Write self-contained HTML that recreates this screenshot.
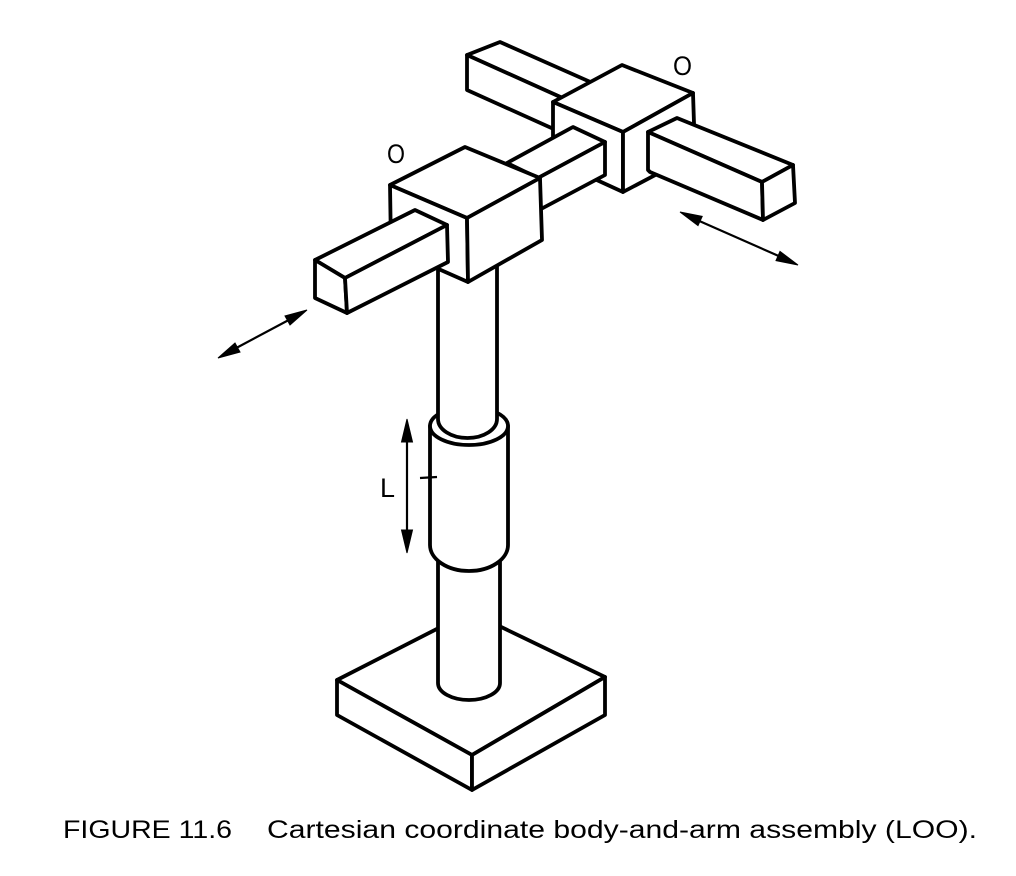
<!DOCTYPE html>
<html>
<head>
<meta charset="utf-8">
<style>
  html, body { margin: 0; padding: 0; background: #fff; }
  svg { display: block; }
  text { font-family: "Liberation Sans", Arial, sans-serif; fill: #000; }
</style>
</head>
<body>
<svg width="1016" height="876" viewBox="0 0 1016 876" xmlns="http://www.w3.org/2000/svg">
  <rect width="1016" height="876" fill="#fff"/>
  <g fill="#fff" stroke="#000" stroke-width="3.8" stroke-linejoin="round" stroke-linecap="round">
    <!-- back bar (behind right block) -->
    <polygon points="467,55 500,42 640,104 607,118"/>
    <polygon points="467,55 607,118 607,153 467,90"/>

    <!-- right block -->
    <polygon points="553,102 622,65 693,93 623,132"/>
    <polygon points="553,102 623,132 623,192 553,160"/>
    <polygon points="623,132 693,93 695,154 623,192"/>

    <!-- right bar -->
    <polygon points="648,132 677,118 793,165 762,182"/>
    <polygon points="648,132 762,182 763,220 650,172 648,170"/>
    <polygon points="762,182 793,165 795,203 763,220"/>

    <!-- middle bar -->
    <polygon points="507,163 573,127 605,142 538,178"/>
    <polygon points="538,178 605,142 605,175 541,209"/>

    <!-- base plate -->
    <polygon points="337,680 470,612 605,677 472,755"/>
    <polygon points="337,680 472,755 472,790 337,715"/>
    <polygon points="472,755 605,677 605,715 472,790"/>

    <!-- lower column -->
    <path d="M438,555 L438,683 A31,17 0 0 0 500,683 L500,555 Z"/>

    <!-- sleeve body -->
    <path d="M430,426 L430,545 A39,26 0 0 0 508,545 L508,426 Z"/>
    <ellipse cx="469" cy="426" rx="39" ry="19"/>

    <!-- upper column -->
    <path d="M438,240 L438,419 A29.5,19 0 0 0 497,419 L497,240"/>

    <!-- left block -->
    <polygon points="390,185 465,147 540,178 467,218"/>
    <polygon points="390,185 467,218 468,282 391,248"/>
    <polygon points="467,218 540,178 542,240 468,282"/>

    <!-- left bar -->
    <polygon points="315,260 415,210 447,225 345,278"/>
    <polygon points="315,260 345,278 347,313 315,298"/>
    <polygon points="345,278 447,225 448,262 347,313"/>
  </g>

  <!-- L arrow -->
  <g stroke="#000" stroke-width="2.2" fill="#000">
    <line x1="407" y1="430" x2="407" y2="543"/>
    <polygon points="407,419 401.5,442 412.5,442" stroke-width="1"/>
    <polygon points="407,553 401.5,530 412.5,530" stroke-width="1"/>
    <line x1="420" y1="478" x2="437" y2="477"/>
  </g>

  <!-- left double arrow -->
  <g stroke="#000" stroke-width="2.2" fill="#000">
    <line x1="225" y1="354" x2="300" y2="314"/>
    <polygon points="307,310 290,325 285,316" stroke-width="1"/>
    <polygon points="218,358 240,352 235,343" stroke-width="1"/>
  </g>

  <!-- right double arrow -->
  <g stroke="#000" stroke-width="2.2" fill="#000">
    <line x1="688" y1="216" x2="790" y2="261"/>
    <polygon points="798,265 776,260.6 780,251.4" stroke-width="1"/>
    <polygon points="680,212 698,225.6 702.2,216.4" stroke-width="1"/>
  </g>

  <!-- labels -->
  <text x="387" y="163" font-size="27" textLength="18" lengthAdjust="spacingAndGlyphs">O</text>
  <text x="673" y="75" font-size="27" textLength="19" lengthAdjust="spacingAndGlyphs">O</text>
  <text x="380" y="497" font-size="27" textLength="15" lengthAdjust="spacingAndGlyphs">L</text>

  <!-- caption -->
  <text x="63" y="838" font-size="25" textLength="169" lengthAdjust="spacingAndGlyphs">FIGURE 11.6</text>
  <text x="267" y="838" font-size="25" textLength="710" lengthAdjust="spacingAndGlyphs">Cartesian coordinate body-and-arm assembly (LOO).</text>
</svg>
</body>
</html>
